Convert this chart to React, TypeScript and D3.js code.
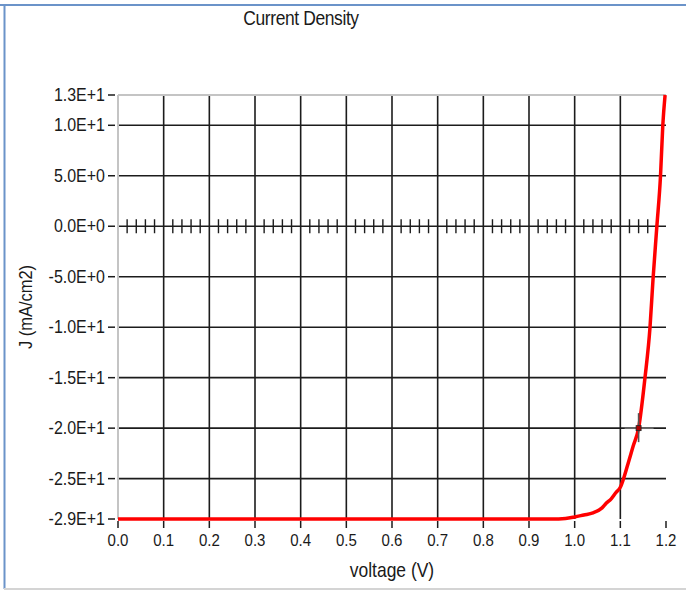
import React, { useEffect, useRef } from "react";
import * as d3 from "d3";

// J-V curve
const voltage = [0, 0.2, 0.4, 0.6, 0.8, 0.95, 0.98, 1.0, 1.02, 1.04, 1.06, 1.07, 1.08, 1.09, 1.1, 1.117, 1.128, 1.14, 1.154, 1.165, 1.1715, 1.18, 1.188, 1.193, 1.198];
const currentDensity = [-29, -29, -29, -29, -29, -29, -28.95, -28.8, -28.6, -28.4, -27.9, -27.4, -27.0, -26.4, -25.85, -23.5, -21.8, -20, -15, -10, -5.3, 0, 5, 10, 13];

const xTicks = [0, 0.1, 0.2, 0.3, 0.4, 0.5, 0.6, 0.7, 0.8, 0.9, 1.0, 1.1, 1.2];
const xTickLabels = ["0.0", "0.1", "0.2", "0.3", "0.4", "0.5", "0.6", "0.7", "0.8", "0.9", "1.0", "1.1", "1.2"];
const yTicks = [13, 10, 5, 0, -5, -10, -15, -20, -25, -29];
const yTickLabels = ["1.3E+1", "1.0E+1", "5.0E+0", "0.0E+0", "-5.0E+0", "-1.0E+1", "-1.5E+1", "-2.0E+1", "-2.5E+1", "-2.9E+1"];
const cursorPoint = { v: 1.14, j: -20 };

export default function App() {
  const svgRef = useRef<SVGSVGElement>(null);

  useEffect(() => {
    const svg = d3.select(svgRef.current);
    svg.selectAll("*").remove();

    const W = 686, H = 590;
    const x = d3.scaleLinear().domain([0, 1.2]).range([118, 666]);
    const y = d3.scaleLinear().domain([-29, 13]).range([519, 95]);
    const font = "'Liberation Sans', Arial, sans-serif";
    const ink = "#1a1a1a";

    // text drawn a little taller than wide, like the screenshot
    const label = (tx: number, ty: number, s: string, size: number, anchor: string, rot = 0) =>
      svg.append("text")
        .attr("transform", `translate(${tx},${ty}) rotate(${rot}) scale(0.97,1.12)`)
        .attr("text-anchor", anchor).attr("font-family", font).attr("font-size", size)
        .attr("fill", ink).text(s);

    svg.append("rect").attr("width", W).attr("height", H).attr("fill", "#fff");

    // window frame
    svg.append("line").attr("x1", 0).attr("x2", W).attr("y1", 5).attr("y2", 5)
      .attr("stroke", "#6b93c9").attr("stroke-width", 2);
    svg.append("line").attr("x1", 4.5).attr("x2", 4.5).attr("y1", 4).attr("y2", 589)
      .attr("stroke", "#6b93c9").attr("stroke-width", 2);
    svg.append("line").attr("x1", 4).attr("x2", W).attr("y1", 589).attr("y2", 589)
      .attr("stroke", "#d4d4d4").attr("stroke-width", 2);

    label(301, 25, "Current Density", 18, "middle").attr("letter-spacing", -0.4);

    // grid
    const g = svg.append("g");
    xTicks.filter(t => t > 0 && t < 1.15).forEach(t => {
      g.append("line").attr("x1", x(t)).attr("x2", x(t)).attr("y1", y(13)).attr("y2", y(-29))
        .attr("stroke", "#1c1c1c").attr("stroke-width", 1.6);
    });
    yTicks.filter(t => t < 13 && t > -29).forEach(t => {
      g.append("line").attr("x1", x(0)).attr("x2", x(1.2)).attr("y1", y(t)).attr("y2", y(t))
        .attr("stroke", "#1c1c1c").attr("stroke-width", 1.6);
    });
    // plot border (top, left)
    g.append("line").attr("x1", x(0)).attr("x2", x(1.2)).attr("y1", y(13)).attr("y2", y(13))
      .attr("stroke", "#c4c4c4").attr("stroke-width", 2);
    g.append("line").attr("x1", x(0)).attr("x2", x(0)).attr("y1", y(13)).attr("y2", y(-29))
      .attr("stroke", "#c4c4c4").attr("stroke-width", 2);

    // minor ticks on the zero line
    d3.range(1, 60).map(i => i * 0.02).filter(v => Math.abs(v * 10 - Math.round(v * 10)) > 0.01)
      .forEach(v => {
        g.append("line").attr("x1", x(v)).attr("x2", x(v)).attr("y1", y(0) - 7).attr("y2", y(0) + 7)
          .attr("stroke", "#1c1c1c").attr("stroke-width", 1.4);
      });

    // axes ticks and labels
    xTicks.forEach((t, i) => {
      g.append("line").attr("x1", x(t)).attr("x2", x(t)).attr("y1", 521).attr("y2", 528)
        .attr("stroke", "#1c1c1c").attr("stroke-width", 1.5);
      label(x(t), 546, xTickLabels[i], 15.5, "middle");
    });
    yTicks.forEach((t, i) => {
      g.append("line").attr("x1", 108).attr("x2", 115).attr("y1", y(t)).attr("y2", y(t))
        .attr("stroke", "#1c1c1c").attr("stroke-width", 1.5);
      label(105, y(t) + 6, yTickLabels[i], 16.5, "end");
    });

    label(392, 577, "voltage (V)", 18, "middle");
    label(32, 307, "J (mA/cm2)", 17, "middle", -90);

    // J-V curve
    const pts = voltage.map((v, i) => [v, currentDensity[i]] as [number, number]);
    const line = d3.line<[number, number]>().x(d => x(d[0])).y(d => y(d[1])).curve(d3.curveMonotoneX);
    svg.append("path").datum(pts).attr("d", line).attr("fill", "none")
      .attr("stroke", "#ff0000").attr("stroke-width", 3.5).attr("stroke-linejoin", "round");

    // cursor marker
    const cx = x(cursorPoint.v), cy = y(cursorPoint.j);
    svg.append("line").attr("x1", cx - 14).attr("x2", cx + 15).attr("y1", cy).attr("y2", cy)
      .attr("stroke", "#666").attr("stroke-width", 1.8);
    svg.append("line").attr("x1", cx).attr("x2", cx).attr("y1", cy - 15).attr("y2", cy + 14)
      .attr("stroke", "#555").attr("stroke-width", 1.6);
    svg.append("rect").attr("x", cx - 2.5).attr("y", cy - 2.5).attr("width", 5).attr("height", 5)
      .attr("fill", "#b00000").attr("stroke", "#222").attr("stroke-width", 0.8);
  }, []);

  return (
    <svg ref={svgRef} width={686} height={590}
      style={{ position: "absolute", left: 0, top: 0, display: "block" }} />
  );
}
